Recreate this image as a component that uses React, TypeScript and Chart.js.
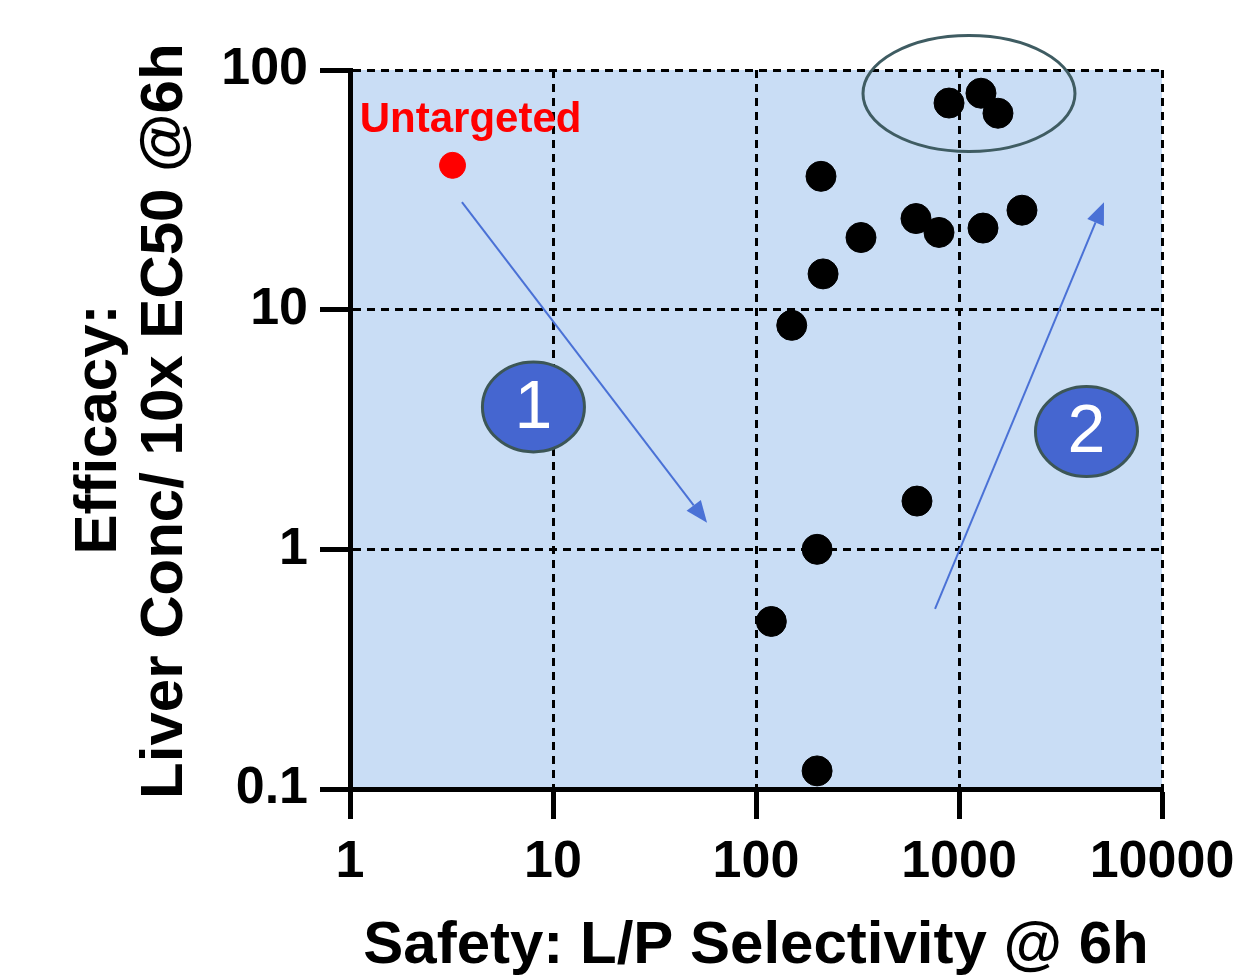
import React, { useEffect, useRef } from "react";
import { Chart, registerables } from "chart.js";

Chart.register(...registerables);

// ---- data ----
const X_TICKS = [1, 10, 100, 1000, 10000];
const X_TICK_LABELS = ["1", "10", "100", "1000", "10000"];
const Y_TICKS = [0.1, 1, 10, 100];
const Y_TICK_LABELS = ["0.1", "1", "10", "100"];

const COMPOUND_X = [893, 1283, 1556, 209, 2043, 614, 797, 1313, 329, 214, 150, 621, 200, 119, 200];
const COMPOUND_Y = [72.8, 80, 66, 36, 26, 24, 21, 21.9, 20, 14.1, 8.6, 1.59, 1.0, 0.5, 0.119];

const UNTARGETED_X = [3.2];
const UNTARGETED_Y = [40];
const UNTARGETED_LABEL = "Untargeted";

const X_TITLE = "Safety: L/P Selectivity @ 6h";
const Y_TITLE = ["Efficacy:", " Liver Conc/ 10x EC50 @6h"];

// annotation anchors (data coordinates)
const ELLIPSE_CENTER = [1120, 79.8];
const ARROW1 = [[3.56, 28.1], [57.4, 1.29]];
const ARROW2 = [[762, 0.564], [5180, 28.1]];
const BADGES = [
  { label: "1", x: 8.01, y: 3.93 },
  { label: "2", x: 4246, y: 3.1 },
];

const FONT = "'Liberation Sans', Arial, Helvetica, sans-serif";
const BG = "#c9ddf5";
const ARROW_COLOR = "#4a71d6";

const annotationPlugin = {
  id: "annotations",
  beforeDraw(chart: any) {
    const { ctx, chartArea } = chart;
    ctx.save();
    ctx.fillStyle = BG;
    ctx.fillRect(chartArea.left, chartArea.top, chartArea.right - chartArea.left, chartArea.bottom - chartArea.top);
    ctx.restore();
  },
  afterDatasetsDraw(chart: any) {
    const { ctx } = chart;
    const xs = chart.scales.x;
    const ys = chart.scales.y;
    const px = (v: number) => xs.getPixelForValue(v);
    const py = (v: number) => ys.getPixelForValue(v);
    ctx.save();

    // Untargeted label
    const ux = px(UNTARGETED_X[0]);
    const uy = py(UNTARGETED_Y[0]);
    ctx.fillStyle = "#ff0000";
    ctx.font = `bold 42px ${FONT}`;
    ctx.textAlign = "center";
    ctx.textBaseline = "middle";
    ctx.fillText(UNTARGETED_LABEL, ux + 18, uy - 45);

    // ellipse
    ctx.beginPath();
    ctx.ellipse(px(ELLIPSE_CENTER[0]), py(ELLIPSE_CENTER[1]), 106, 58, 0, 0, Math.PI * 2);
    ctx.strokeStyle = "#3f5c62";
    ctx.lineWidth = 3;
    ctx.stroke();

    // arrows
    const drawArrow = (a: number[][]) => {
      const x1 = px(a[0][0]), y1 = py(a[0][1]);
      const x2 = px(a[1][0]), y2 = py(a[1][1]);
      const ang = Math.atan2(y2 - y1, x2 - x1);
      const hl = 22, hw = 9;
      const bx = x2 - hl * Math.cos(ang), by = y2 - hl * Math.sin(ang);
      ctx.strokeStyle = ARROW_COLOR;
      ctx.fillStyle = ARROW_COLOR;
      ctx.lineWidth = 2;
      ctx.beginPath();
      ctx.moveTo(x1, y1);
      ctx.lineTo(bx, by);
      ctx.stroke();
      ctx.beginPath();
      ctx.moveTo(x2, y2);
      ctx.lineTo(bx + hw * Math.sin(ang), by - hw * Math.cos(ang));
      ctx.lineTo(bx - hw * Math.sin(ang), by + hw * Math.cos(ang));
      ctx.closePath();
      ctx.fill();
    };
    drawArrow(ARROW1);
    drawArrow(ARROW2);

    // badges
    for (const b of BADGES) {
      const cx = px(b.x), cy = py(b.y);
      ctx.beginPath();
      ctx.ellipse(cx, cy, 51, 45, 0, 0, Math.PI * 2);
      ctx.fillStyle = "#4566d0";
      ctx.fill();
      ctx.strokeStyle = "#3c5656";
      ctx.lineWidth = 3;
      ctx.stroke();
      ctx.fillStyle = "#ffffff";
      ctx.font = `68px ${FONT}`;
      ctx.textAlign = "center";
      ctx.textBaseline = "middle";
      ctx.fillText(b.label, cx, cy + 2);
    }
    ctx.restore();
  },
};

const gridOpts = {
  color: "#000",
  lineWidth: 3,
  drawTicks: true,
  tickLength: 30,
  tickWidth: 5,
  tickColor: "#000",
  tickBorderDash: [],
};

const borderOpts = { display: true, width: 5, color: "#000", dash: [8, 6] };

export default function App() {
  const ref = useRef<HTMLCanvasElement | null>(null);

  useEffect(() => {
    if (!ref.current) return;
    const compounds = COMPOUND_X.map((x, i) => ({ x, y: COMPOUND_Y[i] }));
    const untargeted = UNTARGETED_X.map((x, i) => ({ x, y: UNTARGETED_Y[i] }));

    const chart = new Chart(ref.current, {
      type: "scatter",
      data: {
        datasets: [
          {
            label: "Compounds",
            data: compounds,
            backgroundColor: "#000000",
            borderColor: "#000000",
            pointRadius: 15,
            pointHoverRadius: 15,
            clip: false as any,
          },
          {
            label: UNTARGETED_LABEL,
            data: untargeted,
            backgroundColor: "#ff0000",
            borderColor: "#ff0000",
            pointRadius: 13,
            pointHoverRadius: 13,
            clip: false as any,
          },
        ],
      },
      options: {
        animation: false,
        responsive: false,
        events: [],
        layout: { padding: { left: 0, top: 70, right: 79, bottom: 0 } },
        plugins: {
          legend: { display: false },
          tooltip: { enabled: false },
        },
        scales: {
          x: {
            type: "logarithmic",
            min: 1,
            max: 10000,
            afterBuildTicks: (s: any) => {
              s.ticks = X_TICKS.map((v) => ({ value: v }));
            },
            afterFit: (s: any) => {
              s.height = 191;
              s.paddingLeft = 0;
              s.paddingRight = 0;
            },
            ticks: {
              autoSkip: false,
              maxRotation: 0,
              padding: 12,
              color: "#000",
              font: { family: FONT, size: 52, weight: "bold" },
              callback: (_v: any, i: number) => X_TICK_LABELS[i],
            },
            grid: gridOpts,
            border: borderOpts,
            title: {
              display: true,
              text: X_TITLE,
              color: "#000",
              font: { family: FONT, size: 60, weight: "bold", lineHeight: 1.1 },
              padding: { top: 0, bottom: 1 },
            },
          },
          y: {
            type: "logarithmic",
            min: 0.1,
            max: 100,
            afterBuildTicks: (s: any) => {
              s.ticks = Y_TICKS.map((v) => ({ value: v }));
            },
            afterFit: (s: any) => {
              s.width = 350;
              s.paddingTop = 0;
              s.paddingBottom = 0;
            },
            ticks: {
              autoSkip: false,
              padding: 12,
              color: "#000",
              font: { family: FONT, size: 52, weight: "bold" },
              callback: (_v: any, i: number) => Y_TICK_LABELS[i],
            },
            grid: gridOpts,
            border: borderOpts,
            title: {
              display: true,
              text: Y_TITLE,
              color: "#000",
              font: { family: FONT, size: 60, weight: "bold", lineHeight: 1.1 },
              padding: { top: 66, bottom: 0 },
            },
          },
        },
      } as any,
      plugins: [annotationPlugin],
    });
    return () => chart.destroy();
  }, []);

  return (
    <div style={{ position: "fixed", left: 0, top: 0, width: 1241, height: 980, background: "#fff" }}>
      <canvas ref={ref} width={1241} height={980} style={{ display: "block", width: 1241, height: 980 }} />
    </div>
  );
}
